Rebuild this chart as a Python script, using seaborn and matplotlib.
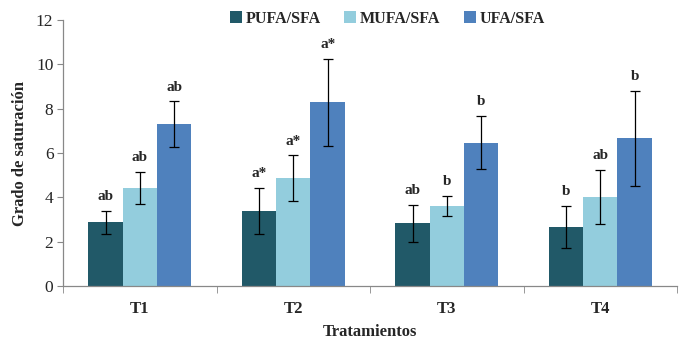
import matplotlib
matplotlib.use("Agg")
import matplotlib.pyplot as plt
import seaborn as sns
import pandas as pd
import numpy as np

categories = ["T1", "T2", "T3", "T4"]
series = ["PUFA/SFA", "MUFA/SFA", "UFA/SFA"]
pufa = [2.87, 3.38, 2.82, 2.65]
mufa = [4.42, 4.87, 3.62, 4.02]
ufa = [7.30, 8.28, 6.47, 6.67]
pufa_err = [0.52, 1.03, 0.83, 0.95]
mufa_err = [0.73, 1.02, 0.44, 1.21]
ufa_err = [1.03, 1.97, 1.20, 2.14]
pufa_lab = ["ab", "a*", "ab", "b"]
mufa_lab = ["ab", "a*", "b", "ab"]
ufa_lab = ["ab", "a*", "b", "b"]
colors = ["#215968", "#93CDDD", "#4F81BD"]

vals = [pufa, mufa, ufa]
errs = [pufa_err, mufa_err, ufa_err]
labs = [pufa_lab, mufa_lab, ufa_lab]

rows = []
for s, v, e, l in zip(series, vals, errs, labs):
    for c, vi, ei, li in zip(categories, v, e, l):
        rows.append({"Tratamiento": c, "Serie": s, "valor": vi, "err": ei, "lab": li})
df = pd.DataFrame(rows)

sns.set_style("white")
plt.rcParams["font.family"] = ["Liberation Serif", "DejaVu Serif"]

fig = plt.figure(figsize=(6.86, 3.45), dpi=100)
ax = fig.add_axes([0.092, 0.171, 0.895, 0.771])

sns.barplot(data=df, x="Tratamiento", y="valor", hue="Serie", hue_order=series,
            order=categories, palette=colors, width=0.67, errorbar=None,
            saturation=1, ax=ax, edgecolor="none")

for i, s in enumerate(series):
    cont = ax.containers[i]
    sub = df[df["Serie"] == s].set_index("Tratamiento").loc[categories]
    for bar, (_, r) in zip(cont, sub.iterrows()):
        x = bar.get_x() + bar.get_width() / 2
        ax.errorbar(x, r["valor"], yerr=r["err"], color="black", capsize=3.3,
                    elinewidth=0.9, capthick=0.9)
        ax.text(x, r["valor"] + r["err"] + 0.35, r["lab"], ha="center", va="bottom",
                fontsize=11, fontweight="bold")

ax.set_ylim(0, 12)
ax.set_xlim(-0.5, 3.5)
ax.set_yticks([0, 2, 4, 6, 8, 10, 12])
ax.tick_params(axis="y", labelsize=12.5, length=4, direction="out", left=True, color="#888888", pad=3)
ax.set_xticks([0, 1, 2, 3])
ax.set_xticklabels(categories, fontsize=12, fontweight="bold")
ax.tick_params(axis="x", length=0, pad=11)
ax.set_xticks([-0.5, 0.5, 1.5, 2.5, 3.5], minor=True)
ax.tick_params(axis="x", which="minor", length=5, direction="out", bottom=True, color="#888888")
for sp in ["top", "right"]:
    ax.spines[sp].set_visible(False)
for sp in ["left", "bottom"]:
    ax.spines[sp].set_color("#888888")
    ax.spines[sp].set_linewidth(0.9)

ax.set_xlabel("Tratamientos", fontsize=12, fontweight="bold", labelpad=5)
ax.set_ylabel("Grado de saturación", fontsize=12, fontweight="bold", labelpad=6)

leg = ax.legend(loc="center", bbox_to_anchor=(0.528, 1.005), ncol=3, frameon=False,
                prop={"weight": "bold", "size": 11.5}, handlelength=0.75, handleheight=0.75,
                handletextpad=0.2, columnspacing=1.5)

fig.savefig("out.png", dpi=100)
